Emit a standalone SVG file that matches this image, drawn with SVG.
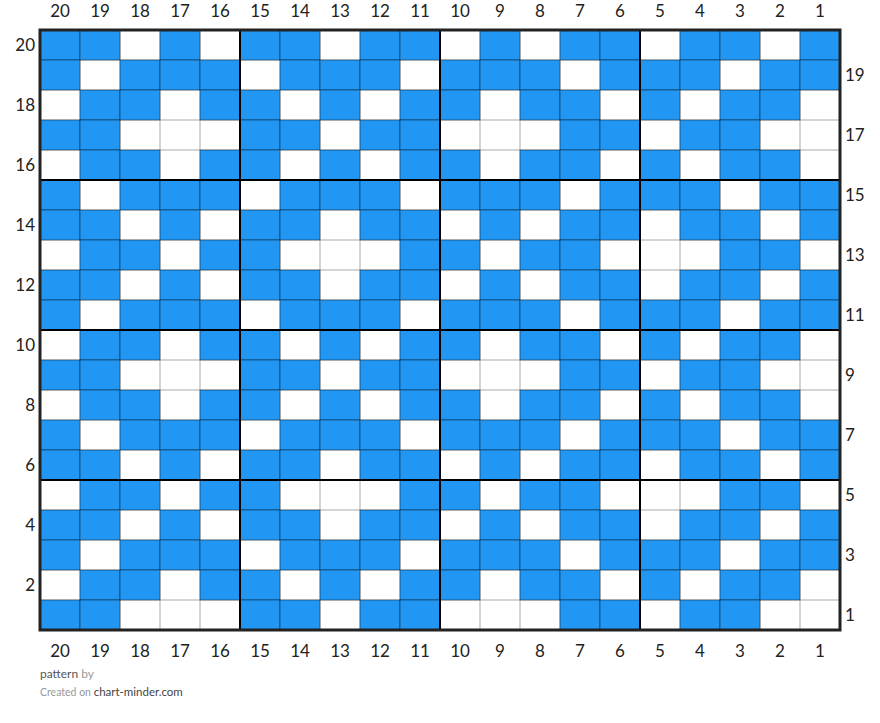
<svg xmlns="http://www.w3.org/2000/svg" xmlns:xlink="http://www.w3.org/1999/xlink" width="880" height="723" viewBox="0 0 880 723">
<style>
.b{fill:#2196f3;stroke:#000;stroke-opacity:0.4;stroke-width:1}
.lbl{font-family:Lato,"Liberation Sans",sans-serif;font-size:17px;fill:#222}
.top{text-anchor:middle}
.left{text-anchor:end}
.right{text-anchor:start}
.thin{stroke:#aaa;stroke-width:1;fill:none}
.thick{stroke:#000;stroke-width:2;fill:none}
.foot{font-family:Lato,"Liberation Sans",sans-serif}
</style>
<defs>
<rect id="c" class="b" width="40" height="30"/>
<g id="pA"><use href="#c" x="40"/><use href="#c" x="80"/><use href="#c" x="160"/><use href="#c" x="240"/><use href="#c" x="280"/><use href="#c" x="360"/><use href="#c" x="400"/><use href="#c" x="480"/><use href="#c" x="560"/><use href="#c" x="600"/><use href="#c" x="680"/><use href="#c" x="720"/><use href="#c" x="800"/></g>
<g id="pB"><use href="#c" x="40"/><use href="#c" x="120"/><use href="#c" x="160"/><use href="#c" x="200"/><use href="#c" x="280"/><use href="#c" x="320"/><use href="#c" x="360"/><use href="#c" x="440"/><use href="#c" x="480"/><use href="#c" x="520"/><use href="#c" x="600"/><use href="#c" x="640"/><use href="#c" x="680"/><use href="#c" x="760"/><use href="#c" x="800"/></g>
<g id="pC"><use href="#c" x="80"/><use href="#c" x="120"/><use href="#c" x="200"/><use href="#c" x="240"/><use href="#c" x="320"/><use href="#c" x="400"/><use href="#c" x="440"/><use href="#c" x="520"/><use href="#c" x="560"/><use href="#c" x="640"/><use href="#c" x="720"/><use href="#c" x="760"/></g>
<g id="pD"><use href="#c" x="40"/><use href="#c" x="80"/><use href="#c" x="240"/><use href="#c" x="280"/><use href="#c" x="360"/><use href="#c" x="400"/><use href="#c" x="560"/><use href="#c" x="600"/><use href="#c" x="680"/><use href="#c" x="720"/></g>
<g id="pE"><use href="#c" x="80"/><use href="#c" x="120"/><use href="#c" x="200"/><use href="#c" x="240"/><use href="#c" x="400"/><use href="#c" x="440"/><use href="#c" x="520"/><use href="#c" x="560"/><use href="#c" x="720"/><use href="#c" x="760"/></g>
</defs>
<rect width="880" height="723" fill="#fff"/>
<g id="grid">
<rect x="40" y="30" width="800" height="600" fill="#fff"/>
<path class="thin" d="M80 30V630M120 30V630M160 30V630M200 30V630M240 30V630M280 30V630M320 30V630M360 30V630M400 30V630M440 30V630M480 30V630M520 30V630M560 30V630M600 30V630M640 30V630M680 30V630M720 30V630M760 30V630M800 30V630M40 60H840M40 90H840M40 120H840M40 150H840M40 180H840M40 210H840M40 240H840M40 270H840M40 300H840M40 330H840M40 360H840M40 390H840M40 420H840M40 450H840M40 480H840M40 510H840M40 540H840M40 570H840M40 600H840"/>
</g>
<g id="cells">
<use href="#pA" y="30"/>
<use href="#pB" y="60"/>
<use href="#pC" y="90"/>
<use href="#pD" y="120"/>
<use href="#pC" y="150"/>
<use href="#pB" y="180"/>
<use href="#pA" y="210"/>
<use href="#pE" y="240"/>
<use href="#pA" y="270"/>
<use href="#pB" y="300"/>
<use href="#pC" y="330"/>
<use href="#pD" y="360"/>
<use href="#pC" y="390"/>
<use href="#pB" y="420"/>
<use href="#pA" y="450"/>
<use href="#pE" y="480"/>
<use href="#pA" y="510"/>
<use href="#pB" y="540"/>
<use href="#pC" y="570"/>
<use href="#pD" y="600"/>
</g>
<g id="blocks">
<path class="thick" d="M240 30V630M440 30V630M640 30V630M40 180H840M40 330H840M40 480H840"/>
<rect x="40" y="30" width="800" height="600" fill="none" stroke="#222" stroke-width="3"/>
</g>
<g id="top-labels" class="lbl top">
<text x="60" y="17">20</text><text x="100" y="17">19</text><text x="140" y="17">18</text><text x="180" y="17">17</text><text x="220" y="17">16</text><text x="260" y="17">15</text><text x="300" y="17">14</text><text x="340" y="17">13</text><text x="380" y="17">12</text><text x="420" y="17">11</text><text x="460" y="17">10</text><text x="500" y="17">9</text><text x="540" y="17">8</text><text x="580" y="17">7</text><text x="620" y="17">6</text><text x="660" y="17">5</text><text x="700" y="17">4</text><text x="740" y="17">3</text><text x="780" y="17">2</text><text x="820" y="17">1</text>
</g>
<g id="bottom-labels" class="lbl top">
<text x="60" y="657">20</text><text x="100" y="657">19</text><text x="140" y="657">18</text><text x="180" y="657">17</text><text x="220" y="657">16</text><text x="260" y="657">15</text><text x="300" y="657">14</text><text x="340" y="657">13</text><text x="380" y="657">12</text><text x="420" y="657">11</text><text x="460" y="657">10</text><text x="500" y="657">9</text><text x="540" y="657">8</text><text x="580" y="657">7</text><text x="620" y="657">6</text><text x="660" y="657">5</text><text x="700" y="657">4</text><text x="740" y="657">3</text><text x="780" y="657">2</text><text x="820" y="657">1</text>
</g>
<g id="left-labels" class="lbl left">
<text x="35" y="51">20</text><text x="35" y="111">18</text><text x="35" y="171">16</text><text x="35" y="231">14</text><text x="35" y="291">12</text><text x="35" y="351">10</text><text x="35" y="411">8</text><text x="35" y="471">6</text><text x="35" y="531">4</text><text x="35" y="591">2</text>
</g>
<g id="right-labels" class="lbl right">
<text x="845" y="81">19</text><text x="845" y="141">17</text><text x="845" y="201">15</text><text x="845" y="261">13</text><text x="845" y="321">11</text><text x="845" y="381">9</text><text x="845" y="441">7</text><text x="845" y="501">5</text><text x="845" y="561">3</text><text x="845" y="621">1</text>
</g>
<g id="footer" class="foot">
<text x="40" y="678" font-size="12"><tspan fill="#555">pattern</tspan><tspan fill="#999"> by</tspan></text>
<text x="40" y="696"><tspan fill="#999" font-size="10.5">Created on </tspan><tspan fill="#444" font-size="11.5">chart-minder.com</tspan></text>
</g>
</svg>
